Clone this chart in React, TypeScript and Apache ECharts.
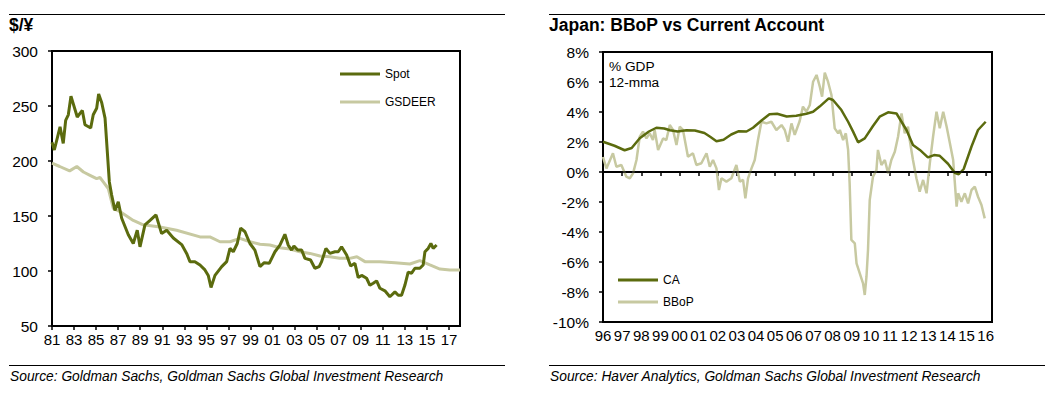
import React, { useEffect, useRef } from "react";
import * as echarts from "echarts";

// Left chart: $/¥ (x = years since 1981)
const leftYTicks = { min: 50, max: 300, step: 50 };
const spot: [number, number][] = [
  [0, 217], [0.21, 210], [0.73, 231], [1.02, 216], [1.24, 237], [1.48, 242], [1.72, 259], [2.29, 240],
  [2.75, 246], [2.99, 233], [3.51, 230], [3.74, 242], [4.05, 248], [4.23, 261], [4.51, 253], [4.81, 239],
  [5.2, 181], [5.41, 169], [5.71, 155], [6.01, 163], [6.32, 148], [6.92, 133], [7.37, 125], [7.73, 137],
  [7.98, 122], [8.43, 142], [8.89, 146], [9.43, 151], [9.94, 134], [10.4, 137], [11.0, 130], [11.76, 124],
  [12.21, 116], [12.51, 108.5], [12.96, 108.5], [13.42, 105.5], [13.87, 101], [14.17, 96], [14.42, 85],
  [14.78, 96], [15.39, 104], [15.84, 108.5], [16.14, 120.6], [16.44, 117.5], [16.8, 125], [17.11, 139],
  [17.5, 135.7], [17.95, 125], [18.4, 119], [18.86, 104], [19.25, 107.6], [19.7, 107], [20.22, 117.5],
  [20.67, 123.6], [21.12, 133.4], [21.42, 123.6], [21.73, 119], [21.94, 122.7], [22.28, 119], [22.64, 119],
  [22.94, 111.5], [23.45, 110], [23.84, 102.5], [24.23, 104], [24.45, 108.5], [24.84, 120.6], [25.2, 116],
  [25.66, 117.5], [25.96, 117.5], [26.26, 122], [26.72, 114.5], [27.08, 104.5], [27.47, 107], [27.77, 94],
  [28.08, 96], [28.53, 93.4], [28.83, 87], [29.13, 88.8], [29.44, 91], [29.74, 84.3], [30.19, 82],
  [30.64, 76.6], [31.1, 81], [31.4, 78], [31.7, 78], [32.0, 87], [32.3, 99], [32.61, 98], [32.91, 102.5],
  [33.36, 102.5], [33.66, 105.5], [33.82, 117.5], [34.12, 120.6], [34.36, 125], [34.57, 120.6], [34.88, 123.6],
];
const gsdeer: [number, number][] = [
  [0, 198], [0.7, 195], [1.6, 191], [2.25, 195], [2.85, 190], [3.45, 187], [4.05, 184], [4.35, 185],
  [4.65, 181], [5.1, 175], [5.56, 157], [6.16, 154], [7.37, 146], [8.27, 142], [9.79, 140], [11.3, 137],
  [13.42, 131], [14.32, 131], [15.23, 126.6], [16.14, 126.6], [17.04, 129.7], [17.95, 126.6], [18.86, 124.3],
  [19.76, 123.6], [20.67, 121.2], [21.58, 120], [22.48, 117.5], [23.39, 116], [24.3, 113.6], [25.2, 113],
  [26.1, 111.5], [27.0, 111.5], [27.65, 113], [28.38, 108.5], [29.74, 108.5], [31.1, 107.6], [32.46, 106.4],
  [33.36, 109.4], [34.27, 105.5], [35.18, 101.8], [36.08, 101], [37, 101],
];

// Right chart: % GDP (x = years since 1996)
const rightYTicks = { min: -10, max: 8, step: 2 };
const ca: [number, number][] = [
  [0, 2.02], [0.6, 1.75], [1.13, 1.45], [1.5, 1.6], [1.92, 2.25], [2.4, 2.7], [2.79, 2.95], [3.2, 2.9],
  [3.5, 2.78], [3.9, 2.7], [4.36, 2.78], [4.8, 2.77], [5.3, 2.6], [5.6, 2.35], [5.93, 2.05], [6.3, 2.15],
  [6.7, 2.5], [7.1, 2.72], [7.5, 2.7], [7.84, 2.95], [8.3, 3.45], [8.7, 3.85], [9.1, 3.88], [9.6, 3.7],
  [10.1, 3.75], [10.63, 3.88], [10.98, 4.02], [11.32, 4.36], [11.8, 4.91], [12.02, 4.8], [12.46, 4.13],
  [12.81, 3.35], [13.07, 2.69], [13.33, 1.98], [13.68, 2.24], [14.11, 3.07], [14.46, 3.69], [14.9, 3.98],
  [15.34, 3.9], [15.6, 3.35], [15.86, 2.8], [16.2, 1.8], [16.56, 1.47], [16.98, 0.97], [17.3, 1.13],
  [17.6, 1.08], [18.03, 0.55], [18.38, -0.05], [18.59, -0.15], [18.85, 0.2], [19.26, 1.7], [19.6, 2.8],
  [20.0, 3.35],
];
const bbop: [number, number][] = [
  [0, 1.0], [0.18, 0.24], [0.52, 1.25], [0.7, 0.35], [0.96, 0.47], [1.22, -0.31], [1.4, -0.42], [1.57, -0.09],
  [1.75, 0.8], [1.92, 2.35], [2.09, 2.69], [2.27, 2.24], [2.44, 2.58], [2.61, 2.13], [2.7, 2.8], [2.88, 1.47],
  [3.14, 2.24], [3.31, 2.13], [3.49, 3.13], [3.66, 2.8], [3.84, 1.8], [4.01, 3.02], [4.18, 2.8], [4.44, 1.02],
  [4.7, 1.25], [4.88, 0.47], [5.14, 0.58], [5.41, 1.25], [5.58, 0.35], [5.75, 0.8], [5.93, 0.24], [6.06, -1.2],
  [6.19, -0.42], [6.45, -0.64], [6.71, -0.42], [6.97, 0.47], [7.15, -0.64], [7.32, -0.53], [7.44, -1.76],
  [7.58, -0.42], [7.76, 0.24], [7.93, 0.8], [8.1, 2.13], [8.28, 3.35], [8.54, 3.24], [8.8, 3.35], [9.06, 2.8],
  [9.33, 3.13], [9.5, 2.8], [9.67, 2.02], [9.85, 3.24], [10.02, 2.47], [10.28, 3.4], [10.45, 4.36],
  [10.63, 4.02], [10.81, 4.47], [10.98, 6.02], [11.16, 6.47], [11.33, 5.69], [11.45, 5.02], [11.59, 6.62],
  [11.76, 6.02], [11.94, 5.13], [12.11, 2.91], [12.29, 2.58], [12.38, 2.8], [12.55, 2.13], [12.69, 2.58],
  [12.81, 1.47], [12.89, -0.76], [12.98, -4.53], [13.16, -4.76], [13.25, -6.09], [13.42, -6.76],
  [13.59, -7.42], [13.68, -8.2], [13.77, -6.98], [13.85, -5.2], [13.94, -1.87], [14.11, -0.31], [14.29, 0.13],
  [14.37, 1.47], [14.55, 0.47], [14.73, 0.8], [14.9, -0.09], [15.07, 0.8], [15.25, 1.35], [15.42, 2.35],
  [15.6, 3.91], [15.77, 2.58], [15.94, 3.02], [16.03, 2.13], [16.2, 0.8], [16.38, -0.42], [16.55, -1.31],
  [16.73, -0.53], [16.91, -1.42], [17.08, 0.58], [17.25, 2.35], [17.43, 4.02], [17.6, 2.91], [17.78, 4.02],
  [17.96, 3.02], [18.13, 1.91], [18.3, 0.8], [18.48, -2.31], [18.56, -1.42], [18.73, -1.98], [18.91, -1.42],
  [19.08, -2.09], [19.26, -1.2], [19.43, -0.98], [19.6, -1.65], [19.78, -2.2], [19.95, -3.09],
];

const leftStartYear = 1981;
const leftYears = 37;
const rightStartYear = 1996;
const rightYears = 20.33;

const DARK = "#5b6b0e";
const LIGHT = "#c7c9a1";
const FONT = "Liberation Sans, Arial, sans-serif";

const yy = (y: number) => String(y % 100).padStart(2, "0");

export default function App() {
  const ref = useRef<HTMLDivElement>(null);
  useEffect(() => {
    if (!ref.current) return;
    const chart = echarts.init(ref.current, undefined, { renderer: "svg" });
    const xText = { color: "#000", fontSize: 15, fontFamily: FONT };
    const yText = { color: "#000", fontSize: 15.5, fontFamily: FONT };
    const legendText = { color: "#000", fontSize: 12, fontFamily: FONT };
    const mkLegend = (name: string, left: number, top: number) => ({
      data: [name], left, top, icon: "rect", itemWidth: 40, itemHeight: 3,
      textStyle: legendText, selectedMode: false, padding: 0,
    });
    const option: any = {
      animation: false,
      textStyle: { fontFamily: FONT },
      grid: [
        { left: 52, top: 51, width: 408, height: 275, show: true, borderColor: "#000", borderWidth: 2, containLabel: false },
        { left: 603, top: 52, width: 389, height: 270, show: true, borderColor: "#000", borderWidth: 2, containLabel: false },
      ],
      xAxis: [
        {
          type: "value", gridIndex: 0, min: 0, max: leftYears, interval: 2,
          axisLine: { show: true, lineStyle: { color: "#000", width: 2 } },
          axisTick: { show: true, length: 4, lineStyle: { color: "#000", width: 1.5 } },
          axisLabel: { ...xText, margin: 6, showMaxLabel: false, formatter: (v: number) => yy(leftStartYear + v) },
          splitLine: { show: false },
        },
        {
          type: "value", gridIndex: 1, min: 0, max: rightYears, interval: 1,
          axisLine: { show: true, lineStyle: { color: "#000", width: 2 } },
          axisTick: { show: true, length: 4, lineStyle: { color: "#000", width: 1.5 } },
          axisLabel: { ...xText, margin: 6, showMaxLabel: false, formatter: (v: number) => yy(rightStartYear + v) },
          splitLine: { show: false },
        },
      ],
      yAxis: [
        {
          type: "value", gridIndex: 0, min: leftYTicks.min, max: leftYTicks.max, interval: leftYTicks.step,
          axisLine: { show: true, lineStyle: { color: "#000", width: 2 } },
          axisTick: { show: true, length: 4, lineStyle: { color: "#000", width: 1.5 } },
          axisLabel: { ...yText, margin: 14 },
          splitLine: { show: false },
        },
        {
          type: "value", gridIndex: 1, min: rightYTicks.min, max: rightYTicks.max, interval: rightYTicks.step,
          axisLine: { show: true, lineStyle: { color: "#000", width: 2 } },
          axisTick: { show: true, length: 4, lineStyle: { color: "#000", width: 1.5 } },
          axisLabel: { ...yText, margin: 14, formatter: (v: number) => v + "%" },
          splitLine: { show: false },
        },
      ],
      legend: [
        mkLegend("Spot", 340, 68),
        mkLegend("GSDEER", 340, 96),
        mkLegend("CA", 618, 274),
        mkLegend("BBoP", 618, 296),
      ],
      series: [
        {
          name: "GSDEER", type: "line", xAxisIndex: 0, yAxisIndex: 0, data: gsdeer, symbol: "none",
          lineStyle: { color: LIGHT, width: 3 }, itemStyle: { color: LIGHT }, z: 2,
        },
        {
          name: "Spot", type: "line", xAxisIndex: 0, yAxisIndex: 0, data: spot, symbol: "none",
          lineStyle: { color: DARK, width: 3 }, itemStyle: { color: DARK }, z: 3,
        },
        {
          name: "BBoP", type: "line", xAxisIndex: 1, yAxisIndex: 1, data: bbop, symbol: "none",
          lineStyle: { color: LIGHT, width: 2.5 }, itemStyle: { color: LIGHT }, z: 2,
        },
        {
          name: "CA", type: "line", xAxisIndex: 1, yAxisIndex: 1, data: ca, symbol: "none",
          lineStyle: { color: DARK, width: 2.5 }, itemStyle: { color: DARK }, z: 3,
          markLine: {
            silent: true, symbol: "none", label: { show: false },
            lineStyle: { color: "#000", width: 1.5, type: "solid" },
            data: [{ yAxis: 0 }],
          },
        },
      ],
      graphic: [
        { type: "line", shape: { x1: 9, y1: 14.5, x2: 505, y2: 14.5 }, style: { stroke: "#000", lineWidth: 1 } },
        { type: "line", shape: { x1: 549, y1: 14.5, x2: 1045, y2: 14.5 }, style: { stroke: "#000", lineWidth: 1 } },
        { type: "line", shape: { x1: 9, y1: 365.5, x2: 505, y2: 365.5 }, style: { stroke: "#000", lineWidth: 1 } },
        { type: "line", shape: { x1: 549, y1: 365.5, x2: 1045, y2: 365.5 }, style: { stroke: "#000", lineWidth: 1 } },
        { type: "text", x: 9, y: 25, style: { text: "$/¥", font: `bold 17.5px ${FONT}`, fill: "#000", textVerticalAlign: "middle" } },
        { type: "text", x: 549, y: 25, style: { text: "Japan: BBoP vs Current Account", font: `bold 17.5px ${FONT}`, fill: "#000", textVerticalAlign: "middle" } },
        { type: "text", x: 609, y: 66, style: { text: "% GDP", font: `13.7px ${FONT}`, fill: "#000", textVerticalAlign: "middle" } },
        { type: "text", x: 609, y: 82, style: { text: "12-mma", font: `13.7px ${FONT}`, fill: "#000", textVerticalAlign: "middle" } },
        { type: "text", x: 10, y: 376, style: { text: "Source: Goldman Sachs, Goldman Sachs Global Investment Research", font: `italic 13.8px ${FONT}`, fill: "#000", textVerticalAlign: "middle" } },
        { type: "text", x: 550, y: 376, style: { text: "Source: Haver Analytics, Goldman Sachs Global Investment Research", font: `italic 13.8px ${FONT}`, fill: "#000", textVerticalAlign: "middle" } },
      ],
    };
    chart.setOption(option);
    return () => chart.dispose();
  }, []);
  return <div ref={ref} style={{ position: "fixed", left: 0, top: 0, width: 1045, height: 396, background: "#fff" }} />;
}
